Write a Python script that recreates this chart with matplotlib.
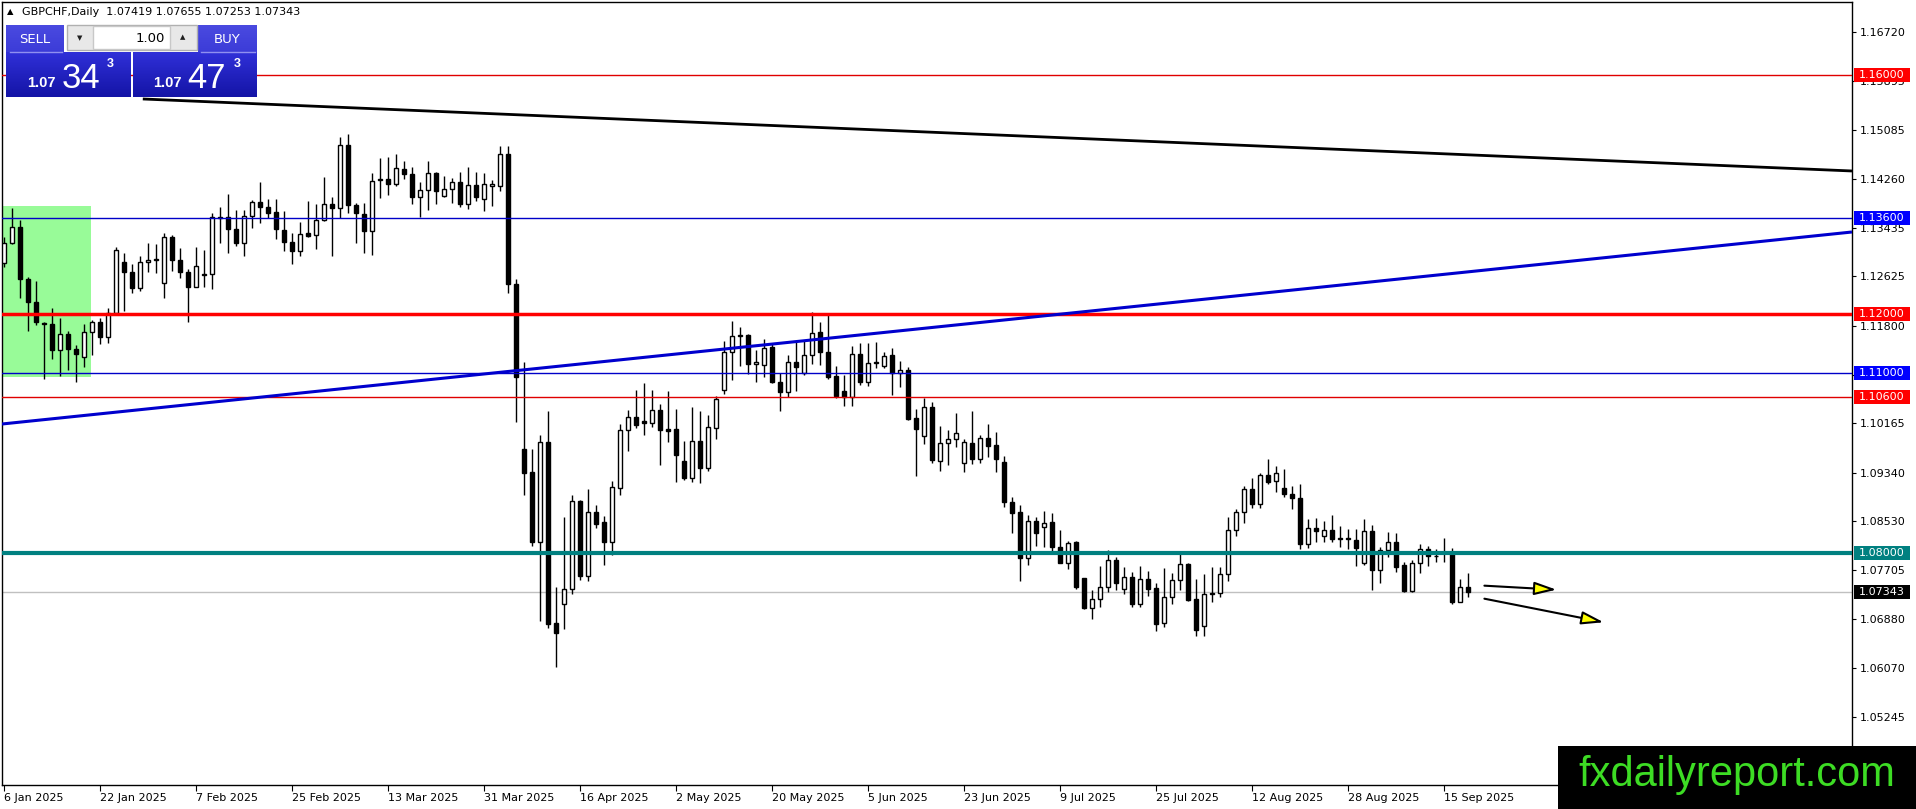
import numpy as np
import matplotlib.pyplot as plt
from matplotlib.patches import Rectangle, FancyArrowPatch
from matplotlib.colors import LinearSegmentedColormap

# GBPCHF daily candles, 6 Jan 2025 .. 18 Sep 2025
opens = [1.12845, 1.13191, 1.13448, 1.12577, 1.12203, 1.11852, 1.11829, 1.11394, 1.11656, 1.11405,
         1.11282, 1.11690, 1.11857, 1.11606, 1.12019, 1.12873, 1.12695, 1.12438, 1.12862, 1.12896,
         1.12510, 1.13281, 1.12896, 1.12706, 1.12455, 1.12656, 1.12661, 1.13627, 1.13627, 1.13415,
         1.13180, 1.13644, 1.13873, 1.13783, 1.13700, 1.13404, 1.13197, 1.13046, 1.13348, 1.13314,
         1.13571, 1.13833, 1.13767, 1.14827, 1.13822, 1.13666, 1.13387, 1.14236, 1.14252, 1.14174,
         1.14420, 1.14342, 1.13951, 1.14074, 1.14353, 1.13973, 1.14085, 1.14202, 1.13839, 1.14152,
         1.13923, 1.14146, 1.14138, 1.14684, 1.12492, 1.09742, 1.09348, 1.08173, 1.09859, 1.06821,
         1.07132, 1.07397, 1.08860, 1.07614, 1.08672, 1.08508, 1.08173, 1.09084, 1.10053, 1.10271,
         1.10212, 1.10171, 1.10394, 1.10065, 1.10065, 1.09530, 1.09242, 1.09865, 1.09418, 1.10094,
         1.10729, 1.11364, 1.11622, 1.11640, 1.11152, 1.11140, 1.11452, 1.10864, 1.10682, 1.11187,
         1.11003, 1.11310, 1.11689, 1.11355, 1.10958, 1.10707, 1.10601, 1.11321, 1.10863, 1.11181,
         1.11131, 1.11310, 1.11014, 1.11053, 1.10249, 1.09959, 1.10444, 1.09540, 1.09830, 1.09897,
         1.09495, 1.09830, 1.09574, 1.09914, 1.09797, 1.09512, 1.08853, 1.08675, 1.07904, 1.08530,
         1.08423, 1.08507, 1.08100, 1.07832, 1.08178, 1.07569, 1.07067, 1.07217, 1.07418, 1.07876,
         1.07385, 1.07586, 1.07139, 1.07552, 1.07402, 1.06827, 1.07251, 1.07536, 1.07804, 1.07217,
         1.06776, 1.07301, 1.07318, 1.07636, 1.08379, 1.08686, 1.09060, 1.08809, 1.09300, 1.09199,
         1.09077, 1.08982, 1.08909, 1.08139, 1.08407, 1.08284, 1.08379, 1.08222, 1.08239, 1.08211,
         1.07820, 1.08362, 1.07709, 1.08044, 1.08172, 1.07792, 1.07363, 1.07820, 1.08055, 1.07938,
         1.07988, 1.07999, 1.07178, 1.07419]
highs = [1.13292, 1.13767, 1.13571, 1.12622, 1.12555, 1.11868, 1.12092, 1.11924, 1.11712, 1.11472,
         1.11829, 1.11896, 1.11924, 1.12103, 1.13125, 1.13013, 1.12834, 1.12968, 1.13180, 1.13164,
         1.13348, 1.13320, 1.13097, 1.12750, 1.13125, 1.13069, 1.13683, 1.13783, 1.14007, 1.13739,
         1.13739, 1.13906, 1.14213, 1.13917, 1.13917, 1.13722, 1.13348, 1.13543, 1.13889, 1.13839,
         1.14297, 1.13951, 1.14956, 1.15012, 1.13850, 1.13850, 1.14364, 1.14604, 1.14621, 1.14677,
         1.14565, 1.14464, 1.14213, 1.14565, 1.14381, 1.14308, 1.14269, 1.14381, 1.14464, 1.14370,
         1.14364, 1.14241, 1.14814, 1.14814, 1.12580, 1.11199, 1.09730, 1.09977, 1.10376, 1.07426,
         1.08596, 1.08966, 1.08878, 1.09072, 1.08790, 1.08613, 1.09201, 1.10153, 1.10394, 1.10729,
         1.10847, 1.10729, 1.10494, 1.10700, 1.10406, 1.09877, 1.10435, 1.10376, 1.10306, 1.10629,
         1.11552, 1.11875, 1.11787, 1.11669, 1.11387, 1.11581, 1.11493, 1.11005, 1.11317, 1.11533,
         1.11561, 1.12036, 1.11857, 1.12008, 1.11126, 1.10975, 1.11461, 1.11505, 1.11516, 1.11522,
         1.11366, 1.11421, 1.11209, 1.11114, 1.10405, 1.10595, 1.10528, 1.10121, 1.10054, 1.10333,
         1.09897, 1.10372, 1.09970, 1.10154, 1.10015, 1.09618, 1.08937, 1.08798, 1.08630, 1.08591,
         1.08703, 1.08658, 1.08379, 1.08200, 1.08200, 1.07580, 1.07374, 1.07776, 1.08044, 1.07932,
         1.07765, 1.07681, 1.07781, 1.07692, 1.07497, 1.07748, 1.07653, 1.07977, 1.07832, 1.07552,
         1.07642, 1.07765, 1.07765, 1.08591, 1.08725, 1.09116, 1.09244, 1.09339, 1.09568, 1.09451,
         1.09400, 1.09116, 1.09149, 1.08563, 1.08585, 1.08529, 1.08630, 1.08446, 1.08390, 1.08390,
         1.08563, 1.08462, 1.08088, 1.08340, 1.08323, 1.07848, 1.07876, 1.08144, 1.08111, 1.08060,
         1.08250, 1.08083, 1.07552, 1.07655]
lows = [1.12790, 1.13169, 1.12259, 1.11718, 1.11812, 1.10902, 1.11237, 1.10958, 1.11059, 1.10863,
        1.11103, 1.11310, 1.11494, 1.11505, 1.12008, 1.12053, 1.12354, 1.12388, 1.12706, 1.12678,
        1.12259, 1.12723, 1.12594, 1.11868, 1.12443, 1.12455, 1.12415, 1.13191, 1.13024, 1.13136,
        1.12974, 1.13432, 1.13526, 1.13599, 1.13247, 1.13058, 1.12829, 1.12974, 1.13281, 1.13080,
        1.13560, 1.12968, 1.13599, 1.13694, 1.13180, 1.13013, 1.12985, 1.13934, 1.13990, 1.14146,
        1.14252, 1.13839, 1.13627, 1.13739, 1.13839, 1.13951, 1.13850, 1.13783, 1.13750, 1.13895,
        1.13722, 1.13800, 1.14050, 1.12345, 1.10183, 1.08966, 1.08114, 1.06850, 1.06744, 1.06086,
        1.06721, 1.07309, 1.07544, 1.07526, 1.08408, 1.07791, 1.07967, 1.08966, 1.09701, 1.10083,
        1.09977, 1.10112, 1.09466, 1.09859, 1.09189, 1.09219, 1.09189, 1.09172, 1.09360, 1.09906,
        1.10659, 1.10894, 1.11129, 1.10994, 1.10858, 1.10935, 1.10847, 1.10365, 1.10612, 1.10712,
        1.10975, 1.11159, 1.11142, 1.10908, 1.10584, 1.10456, 1.10456, 1.10807, 1.10791, 1.11087,
        1.11087, 1.10640, 1.10768, 1.10221, 1.09289, 1.09819, 1.09507, 1.09367, 1.09467, 1.09775,
        1.09356, 1.09484, 1.09507, 1.09607, 1.09356, 1.08758, 1.08323, 1.07530, 1.07793, 1.08111,
        1.08100, 1.07988, 1.07820, 1.07720, 1.07385, 1.07050, 1.06883, 1.07095, 1.07346, 1.07374,
        1.07307, 1.07095, 1.07095, 1.07279, 1.06693, 1.06760, 1.07134, 1.07374, 1.07195, 1.06603,
        1.06603, 1.07178, 1.07251, 1.07530, 1.08284, 1.08501, 1.08753, 1.08753, 1.09144, 1.09010,
        1.08926, 1.08725, 1.08055, 1.08072, 1.08183, 1.08183, 1.08183, 1.08099, 1.08055, 1.07781,
        1.07792, 1.07374, 1.07485, 1.07921, 1.07670, 1.07346, 1.07346, 1.07653, 1.07781, 1.07848,
        1.07848, 1.07139, 1.07170, 1.07253]
closes = [1.13191, 1.13448, 1.12577, 1.12203, 1.11857, 1.11829, 1.11394, 1.11656, 1.11405, 1.11321,
          1.11690, 1.11857, 1.11606, 1.12019, 1.13069, 1.12695, 1.12438, 1.12862, 1.12896, 1.12912,
          1.13281, 1.12896, 1.12706, 1.12455, 1.12806, 1.12667, 1.13616, 1.13610, 1.13415, 1.13191,
          1.13644, 1.13873, 1.13783, 1.13694, 1.13415, 1.13197, 1.13046, 1.13342, 1.13309, 1.13571,
          1.13833, 1.13767, 1.14827, 1.13822, 1.13683, 1.13387, 1.14230, 1.14252, 1.14174, 1.14437,
          1.14342, 1.13951, 1.14074, 1.14353, 1.14057, 1.14085, 1.14208, 1.13839, 1.14152, 1.13951,
          1.14169, 1.14169, 1.14684, 1.12492, 1.10947, 1.09336, 1.08173, 1.09848, 1.06803, 1.06645,
          1.07397, 1.08860, 1.07614, 1.08672, 1.08478, 1.08184, 1.09095, 1.10053, 1.10271, 1.10141,
          1.10171, 1.10394, 1.10053, 1.10041, 1.09642, 1.09242, 1.09865, 1.09418, 1.10112, 1.10565,
          1.11364, 1.11622, 1.11640, 1.11152, 1.11187, 1.11434, 1.10864, 1.10682, 1.11187, 1.11114,
          1.11310, 1.11673, 1.11355, 1.10947, 1.10629, 1.10601, 1.11321, 1.10863, 1.11170, 1.11193,
          1.11299, 1.11014, 1.11053, 1.10243, 1.10065, 1.10444, 1.09551, 1.09830, 1.09897, 1.09998,
          1.09847, 1.09574, 1.09914, 1.09791, 1.09562, 1.08853, 1.08669, 1.07904, 1.08530, 1.08323,
          1.08502, 1.08100, 1.07832, 1.08167, 1.07430, 1.07067, 1.07218, 1.07418, 1.07876, 1.07485,
          1.07586, 1.07139, 1.07552, 1.07390, 1.06799, 1.07251, 1.07536, 1.07804, 1.07206, 1.06704,
          1.07301, 1.07318, 1.07636, 1.08379, 1.08686, 1.09060, 1.08809, 1.09300, 1.09188, 1.09328,
          1.08976, 1.08909, 1.08139, 1.08407, 1.08367, 1.08379, 1.08222, 1.08239, 1.08222, 1.08072,
          1.08362, 1.07709, 1.08044, 1.08172, 1.07765, 1.07357, 1.07820, 1.08055, 1.07943, 1.07949,
          1.07999, 1.07178, 1.07418, 1.07343]

date_labels = ['6 Jan 2025', '22 Jan 2025', '7 Feb 2025', '25 Feb 2025', '13 Mar 2025',
               '31 Mar 2025', '16 Apr 2025', '2 May 2025', '20 May 2025', '5 Jun 2025',
               '23 Jun 2025', '9 Jul 2025', '25 Jul 2025', '12 Aug 2025', '28 Aug 2025',
               '15 Sep 2025']
date_bars = [0, 12, 24, 36, 48, 60, 72, 84, 96, 108, 120, 132, 144, 156, 168, 180]

price_ticks = [1.16720, 1.15895, 1.15085, 1.14260, 1.13435, 1.12625, 1.11800, 1.10975,
               1.10165, 1.09340, 1.08530, 1.07705, 1.06880, 1.06070, 1.05245]

# horizontal levels drawn on the chart
levels = [1.16000, 1.13600, 1.12000, 1.11000, 1.10600, 1.08000]
level_colors = ['#e00000', '#0000c8', '#ff0000', '#0000c8', '#e00000', '#008080']
level_widths = [1.0, 1.0, 2.5, 1.0, 1.0, 3.0]
label_colors = ['#ff0000', '#0000ff', '#ff0000', '#0000ff', '#ff0000', '#008080']

# trend lines (bar index, price)
black_tl_x, black_tl_y = [17.4, 231.05], [1.15598, 1.14392]
blue_tl_x, blue_tl_y = [-0.2, 231.05], [1.10154, 1.13370]

# green zone
zone_x, zone_y = [-0.6, 10.9], [1.10941, 1.13806]

# forecast arrows
arrow1 = [(185.1, 1.07446), (194.1, 1.07379)]
arrow2 = [(185.1, 1.07228), (200.0, 1.06833)]

spread = 0.00130

W, H = 1916, 809
fig = plt.figure(figsize=(W / 100, H / 100), dpi=100)
fig.patch.set_facecolor('white')
ax = fig.add_axes([2 / W, 1 - 785 / H, 1850 / W, 783 / H])
ax.set_xlim(-0.2, 231.05)
ax.set_ylim(1.041073, 1.172225)

# green zone in the background
ax.add_patch(Rectangle((zone_x[0], zone_y[0]), zone_x[1] - zone_x[0], zone_y[1] - zone_y[0],
                       fc='#98fb98', ec='none', zorder=1))

# bid line
bid = closes[-1]
ax.axhline(bid, color='#c0c0c0', lw=1, zorder=2)

# candles
n = len(opens)
idx = np.arange(n)
ax.vlines(idx, lows, highs, color='black', lw=1, zorder=3)
for i in range(n):
    o, c = opens[i], closes[i]
    bull = c >= o
    lo = min(o, c)
    h = abs(c - o)
    ax.add_patch(Rectangle((i - 0.25, lo), 0.5, h, fc='white' if bull else 'black',
                           ec='black', lw=1, zorder=4))

# levels and trend lines
for lv, col, lw in zip(levels, level_colors, level_widths):
    ax.axhline(lv, color=col, lw=lw, zorder=5)
ax.plot(black_tl_x, black_tl_y, color='black', lw=2, zorder=5, solid_capstyle='butt')
ax.plot(blue_tl_x, blue_tl_y, color='#0000cd', lw=2.2, zorder=5, solid_capstyle='butt')

# arrows
for a in (arrow1, arrow2):
    ax.add_patch(FancyArrowPatch(a[0], a[1], arrowstyle='-|>,head_length=1.35,head_width=0.4',
                                 mutation_scale=10, fc='#ffff00', ec='black', lw=1.5,
                                 shrinkA=0, shrinkB=0, zorder=6))

# axes styling
for s in ax.spines.values():
    s.set_color('black')
    s.set_linewidth(1)
ax.yaxis.tick_right()
ax.set_yticks(price_ticks)
ax.set_yticklabels([f'{p:.5f}' for p in price_ticks])
ax.tick_params(axis='y', direction='out', length=3, width=0.8, labelsize=8, pad=2.5,
               colors='black')
ax.set_xticks(date_bars)
ax.set_xticklabels(date_labels, ha='left')
ax.tick_params(axis='x', direction='out', length=4, width=0.8, labelsize=8, pad=2,
               colors='black')
for lab in ax.get_xticklabels():
    lab.set_horizontalalignment('left')

# price labels on the axis
ytr = ax.get_yaxis_transform()
px_y = (1.172225 - 1.041073) / 783
px_x = 1 / 1850
lab_vals = levels + [bid]
lab_cols = label_colors + ['black']
for lv, col in zip(lab_vals, lab_cols):
    ax.add_patch(Rectangle((1 + 2 * px_x, lv - 7 * px_y), 56 * px_x, 14 * px_y,
                           transform=ytr, fc=col, ec='none', clip_on=False, zorder=8))
    ax.text(1 + 30 * px_x, lv, f'{lv:.5f}', transform=ytr, ha='center', va='center',
            fontsize=8, color='white', clip_on=False, zorder=9)

# overlay in pixel coordinates for header, trade panel and watermark
oax = fig.add_axes([0, 0, 1, 1], zorder=10)
oax.axis('off')
oax.patch.set_alpha(0)

oax.text(10, 12, '\u25b2', fontsize=6, ha='center', va='center', color='black')
oax.text(22, 12, f'GBPCHF,Daily  {opens[-1]:.5f} {highs[-1]:.5f} {lows[-1]:.5f} {closes[-1]:.5f}',
         fontsize=8, ha='left', va='center', color='black')


def grad_box(x0, y0, x1, y1, c_top, c_bot):
    cmap = LinearSegmentedColormap.from_list('g', [c_top, c_bot])
    oax.imshow(np.linspace(0, 1, 64)[:, None], extent=(x0, x1, y1, y0), cmap=cmap,
               aspect='auto', zorder=1, interpolation='bilinear')


# SELL side
grad_box(6, 25, 64, 52, '#4a4ae0', '#3c3cd8')
grad_box(6, 52, 131, 97, '#3030d8', '#1414a6')
oax.plot([10, 62], [52, 52], color='#9090f0', lw=1, zorder=2)
# BUY side
grad_box(198, 25, 257, 52, '#4a4ae0', '#3c3cd8')
grad_box(133, 52, 257, 97, '#3030d8', '#1414a6')
oax.plot([201, 255], [52, 52], color='#9090f0', lw=1, zorder=2)

# lot spinner
oax.add_patch(Rectangle((67, 25), 130, 25, fc='#e8e8e8', ec='#b0b0b0', lw=1, zorder=3))
oax.add_patch(Rectangle((93, 26), 77, 23, fc='white', ec='#c8c8c8', lw=1, zorder=3))
oax.text(80, 38, '\u25bc', fontsize=5, ha='center', va='center', color='#202020', zorder=4)
oax.text(183, 37, '\u25b2', fontsize=5, ha='center', va='center', color='#202020', zorder=4)
oax.text(165, 38, '1.00', fontsize=9.5, ha='right', va='center', color='black', zorder=4)

oax.text(35, 39, 'SELL', fontsize=9.5, ha='center', va='center', color='white', zorder=4)
oax.text(227, 39, 'BUY', fontsize=9.5, ha='center', va='center', color='white', zorder=4)

ask = bid + spread
for price, x_big, x_mid, x_sup in ((bid, 41, 81, 110), (ask, 167, 207, 237)):
    s = f'{price:.5f}'
    oax.text(x_big, 87, s[:4], fontsize=10.5, fontweight='bold', family='Liberation Sans',
             ha='center', va='baseline', color='white', zorder=4)
    oax.text(x_mid, 88, s[4:6], fontsize=25, family='Liberation Sans',
             ha='center', va='baseline', color='white', zorder=4)
    oax.text(x_sup, 64, s[6], fontsize=9, fontweight='bold', family='Liberation Sans',
             ha='center', va='center', color='white', zorder=4)

# watermark
oax.add_patch(Rectangle((1558, 746), 358, 63, fc='black', ec='none', zorder=20))
oax.text(1737, 775, 'fxdailyreport.com', fontsize=30, family='Liberation Sans',
         ha='center', va='center', color='#3ddc24', zorder=21)

oax.set_xlim(0, W)
oax.set_ylim(H, 0)

fig.savefig('out.png', dpi=100, facecolor='white')
